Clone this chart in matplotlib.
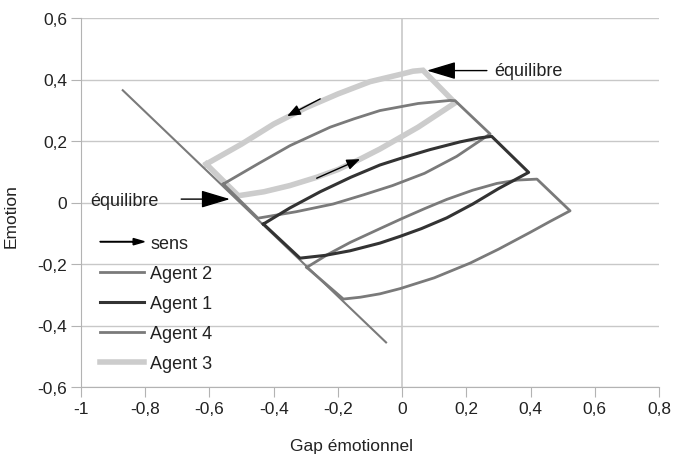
import numpy as np
import matplotlib
matplotlib.use("Agg")
import matplotlib.pyplot as plt
import matplotlib.patches as mpatches
from matplotlib.lines import Line2D
from matplotlib.legend_handler import HandlerPatch
from matplotlib.ticker import FuncFormatter

plt.rcParams['font.family'] = ['Liberation Sans', 'DejaVu Sans']

# Droite d'équilibre
diag_x = [-0.87, -0.05]
diag_y = [0.365, -0.455]

# Agent 3 (gris clair)
a3_x = [-0.61, -0.50, -0.40, -0.30, -0.20, -0.10, 0.0, 0.034, 0.065,
        0.165, 0.05, -0.069, -0.131, -0.20, -0.266, -0.35, -0.43, -0.51, -0.61]
a3_y = [0.125, 0.19, 0.255, 0.308, 0.353, 0.393, 0.418, 0.427, 0.43,
        0.324, 0.245, 0.174, 0.141, 0.107, 0.082, 0.055, 0.035, 0.022, 0.125]

# Agent 2
a2_x = [-0.557, -0.45, -0.349, -0.224, -0.15, -0.069, 0.05, 0.15, 0.165,
        0.274, 0.17, 0.07, -0.03, -0.12, -0.215, -0.33, -0.449, -0.557]
a2_y = [0.06, 0.125, 0.185, 0.245, 0.272, 0.299, 0.322, 0.332, 0.331,
        0.223, 0.15, 0.095, 0.055, 0.025, -0.005, -0.03, -0.051, 0.06]

# Agent 1
a1_x = [-0.432, -0.35, -0.255, -0.16, -0.069, 0.0, 0.087, 0.18, 0.24, 0.279,
        0.394, 0.30, 0.22, 0.139, 0.06, -0.006, -0.069, -0.162, -0.24, -0.318, -0.432]
a1_y = [-0.07, -0.018, 0.035, 0.082, 0.122, 0.145, 0.172, 0.197, 0.21, 0.215,
        0.098, 0.045, -0.005, -0.05, -0.085, -0.11, -0.132, -0.157, -0.172, -0.181, -0.07]

# Agent 4
a4_x = [-0.297, -0.23, -0.162, -0.069, 0.0, 0.07, 0.139, 0.22, 0.295, 0.36, 0.42,
        0.523, 0.46, 0.399, 0.30, 0.212, 0.10, -0.006, -0.069, -0.13, -0.183, -0.297]
a4_y = [-0.211, -0.168, -0.13, -0.085, -0.052, -0.02, 0.01, 0.04, 0.062, 0.073, 0.076,
        -0.027, -0.062, -0.097, -0.152, -0.197, -0.245, -0.28, -0.297, -0.308, -0.314, -0.211]

# Flèches "sens" (queue, pointe)
sens_tails = [(-0.255, 0.337), (-0.266, 0.079)]
sens_tips = [(-0.358, 0.281), (-0.131, 0.141)]

# Annotations "équilibre" (texte, queue, pointe)
eq_text = [(0.287, 0.428), (-0.972, 0.006)]
eq_tails = [(0.264, 0.429), (-0.688, 0.011)]
eq_tips = [(0.077, 0.429), (-0.536, 0.011)]

c_light = '#cccccc'
c_mid = '#7a7a7a'
c_dark = '#333333'

fig = plt.figure(figsize=(6.74, 4.64), dpi=100)
ax = fig.add_axes([81/674, 1-388/464, 578/674, 369/464])

ax.set_xlim(-1, 0.8)
ax.set_ylim(-0.6, 0.6)
ax.set_xticks(np.arange(-1, 0.81, 0.2))
ax.set_yticks(np.arange(-0.6, 0.61, 0.2))
fmt = FuncFormatter(lambda v, p: ('%g' % round(v, 1)).replace('.', ',') if abs(v) > 1e-9 else '0')
ax.xaxis.set_major_formatter(fmt)
ax.yaxis.set_major_formatter(fmt)

ax.grid(axis='y', color='#c8c8c8', lw=1)
ax.axvline(0, color='#c8c8c8', lw=1.2, zorder=0.5)
ax.set_axisbelow(True)
for s in ['top', 'right']:
    ax.spines[s].set_visible(False)
for s in ['left', 'bottom']:
    ax.spines[s].set_color('#b3b3b3')
ax.tick_params(direction='out', length=7, color='#b3b3b3', labelsize=12.5,
               labelcolor='#222222', pad=3)

ax.plot(a3_x, a3_y, color=c_light, lw=4, solid_joinstyle='miter', label='Agent 3')
ax.plot(diag_x, diag_y, color=c_mid, lw=1.5)
ax.plot(a2_x, a2_y, color=c_mid, lw=2, label='Agent 2')
ax.plot(a4_x, a4_y, color=c_mid, lw=2, label='Agent 4')
ax.plot(a1_x, a1_y, color=c_dark, lw=2.2, label='Agent 1')

for t, h in zip(sens_tails, sens_tips):
    ax.annotate('', xy=h, xytext=t,
                arrowprops=dict(arrowstyle='-|>,head_length=0.8,head_width=0.32',
                                color='black', lw=1, shrinkA=0, shrinkB=0,
                                mutation_scale=10))

for txt, t, h in zip(eq_text, eq_tails, eq_tips):
    ax.text(txt[0], txt[1], 'équilibre', fontsize=13, color='#222222',
            ha='left', va='center')
    ax.annotate('', xy=h, xytext=t,
                arrowprops=dict(arrowstyle='-|>,head_length=1.8,head_width=0.54',
                                color='black', lw=1, shrinkA=0, shrinkB=0,
                                mutation_scale=10))

ax.set_xlabel('Gap émotionnel', fontsize=12.5, color='#222222')
ax.set_ylabel('Emotion', fontsize=12.5, color='#222222')
ax.xaxis.set_label_coords((352-81)/578, (388-439)/369)
ax.yaxis.set_label_coords((19-81)/578, (388-216.5)/369)


def make_arrow(legend, orig_handle, xdescent, ydescent, width, height, fontsize):
    return mpatches.FancyArrow(0, height/2, width, 0, width=0.3,
                               head_width=height*0.5, head_length=width*0.25,
                               length_includes_head=True, color='black')


sens_handle = mpatches.FancyArrow(0, 0, 1, 0, color='black')
handles = [sens_handle,
           Line2D([], [], color=c_mid, lw=2),
           Line2D([], [], color=c_dark, lw=2.2),
           Line2D([], [], color=c_mid, lw=2),
           Line2D([], [], color=c_light, lw=4)]
labels = ['sens', 'Agent 2', 'Agent 1', 'Agent 4', 'Agent 3']
leg = ax.legend(handles, labels, loc='upper left',
                bbox_to_anchor=((100-81)/578, (388-236)/369),
                frameon=False, fontsize=13, borderpad=0, borderaxespad=0,
                handlelength=2.45, handletextpad=0.33, labelspacing=0.72,
                handler_map={mpatches.FancyArrow: HandlerPatch(patch_func=make_arrow)})
for t in leg.get_texts():
    t.set_color('#222222')

fig.savefig('out.png', dpi=100)
